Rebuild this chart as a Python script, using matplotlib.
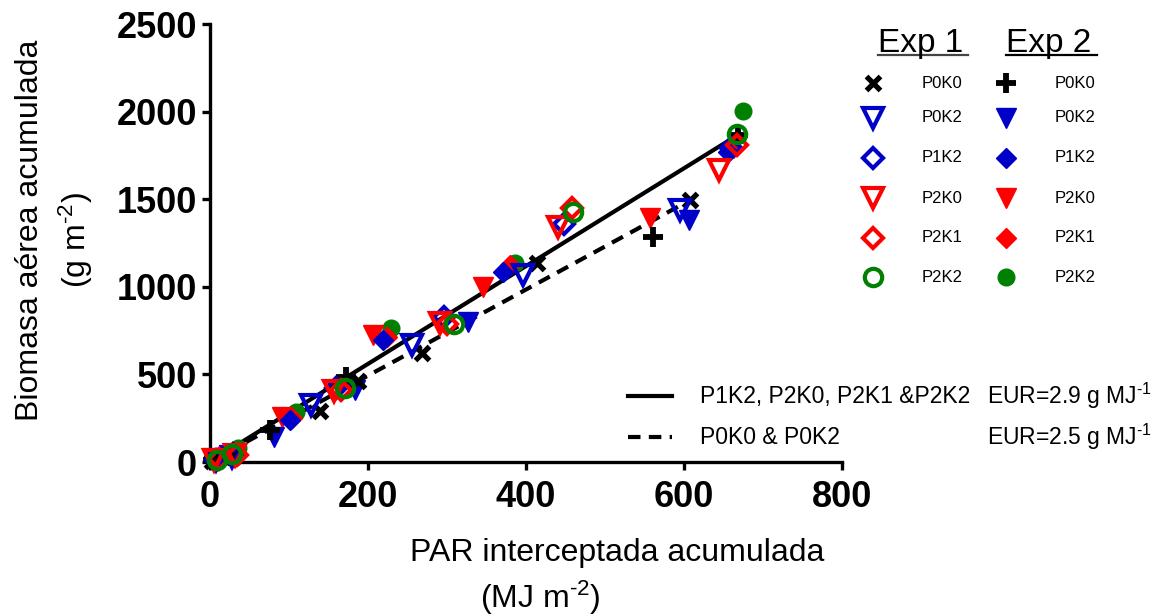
import matplotlib
matplotlib.use('Agg')
import matplotlib.pyplot as plt
from matplotlib.lines import Line2D

plt.rcParams['font.family'] = ['Liberation Sans', 'DejaVu Sans']
plt.rcParams['mathtext.default'] = 'regular'

# ---------------- data (PAR MJ m-2, biomass g m-2) ----------------
treatments = ['P0K0', 'P0K2', 'P1K2', 'P2K0', 'P2K1', 'P2K2']

e1_p0k0_x = [3, 30, 140, 188, 269, 414, 608]
e1_p0k0_y = [5, 30, 290, 460, 620, 1134, 1495]
e1_p0k2_x = [8, 28, 129, 256, 397, 595]
e1_p0k2_y = [10, 30, 325, 668, 1067, 1438]
e1_p1k2_x = [8, 30, 160, 297, 448, 660]
e1_p1k2_y = [12, 45, 425, 829, 1360, 1795]
e1_p2k0_x = [6, 32, 158, 291, 441, 644]
e1_p2k0_y = [10, 40, 405, 792, 1343, 1667]
e1_p2k1_x = [12, 35, 166, 300, 458, 667]
e1_p2k1_y = [15, 40, 410, 785, 1450, 1809]
e1_p2k2_x = [10, 28, 171, 309, 460, 667]
e1_p2k2_y = [12, 46, 420, 786, 1429, 1872]

e2_p0k0_x = [5, 76, 173, 561, 669]
e2_p0k0_y = [10, 183, 487, 1286, 1866]
e2_p0k2_x = [8, 81, 184, 327, 606]
e2_p0k2_y = [5, 140, 411, 800, 1381]
e2_p1k2_x = [10, 30, 102, 220, 371, 656]
e2_p1k2_y = [15, 40, 240, 696, 1086, 1771]
e2_p2k0_x = [8, 30, 92, 207, 346, 557]
e2_p2k0_y = [10, 35, 258, 725, 1001, 1391]
e2_p2k1_x = [12, 32, 104, 224, 380, 662]
e2_p2k1_y = [20, 45, 250, 712, 1124, 1790]
e2_p2k2_x = [10, 36, 110, 230, 386, 675]
e2_p2k2_y = [15, 80, 285, 763, 1134, 2005]

fit_high_x = [0, 668]
fit_high_y = [0, 1866]
fit_low_x = [0, 608]
fit_low_y = [0, 1495]

fit_high_label = 'P1K2, P2K0, P2K1 &P2K2'
fit_low_label = 'P0K0 & P0K2'
eur_high = '2.9'
eur_low = '2.5'

xticks = [0, 200, 400, 600, 800]
yticks = [0, 500, 1000, 1500, 2000, 2500]

# ---------------- styles ----------------
BLUE = '#0000C8'
RED = '#FF0000'
GREEN = '#008000'
BLACK = '#000000'
HY = '\u2010'  # hyphen for superscripts

# (marker, color, filled, ms, mew)
style_e1 = [('x', BLACK, True, 10, 3.8),
            ('v', BLUE, False, 15, 3.0),
            ('D', BLUE, False, 10.5, 3.0),
            ('v', RED, False, 15, 3.0),
            ('D', RED, False, 10.5, 3.0),
            ('o', GREEN, False, 12.5, 3.0)]
style_e2 = [('+', BLACK, True, 14, 4.2),
            ('v', BLUE, True, 14, 1.0),
            ('D', BLUE, True, 10.5, 1.0),
            ('v', RED, True, 14, 1.0),
            ('D', RED, True, 10.5, 1.0),
            ('o', GREEN, True, 12, 1.0)]

e1_data = [(e1_p0k0_x, e1_p0k0_y), (e1_p0k2_x, e1_p0k2_y), (e1_p1k2_x, e1_p1k2_y),
           (e1_p2k0_x, e1_p2k0_y), (e1_p2k1_x, e1_p2k1_y), (e1_p2k2_x, e1_p2k2_y)]
e2_data = [(e2_p0k0_x, e2_p0k0_y), (e2_p0k2_x, e2_p0k2_y), (e2_p1k2_x, e2_p1k2_y),
           (e2_p2k0_x, e2_p2k0_y), (e2_p2k1_x, e2_p2k1_y), (e2_p2k2_x, e2_p2k2_y)]


def mk_kwargs(st):
    m, c, filled, ms, mew = st
    kw = dict(marker=m, ms=ms, mew=mew, mec=c, linestyle='none')
    if m in ('x', '+'):
        kw['color'] = c
    else:
        kw['mfc'] = c if filled else 'none'
    return kw


fig = plt.figure(figsize=(11.65, 6.15), dpi=100)
W, H = 1165.0, 615.0
ax = fig.add_axes([209.5 / W, (H - 462) / H, (842 - 209.5) / W, (462 - 24) / H])

# regression lines
ax.plot(fit_high_x, fit_high_y, color=BLACK, lw=3, solid_capstyle='butt', zorder=2)
ax.plot(fit_low_x, fit_low_y, color=BLACK, lw=3, dashes=(3, 2), zorder=2)

# markers: exp2 (reversed order), then exp1
for (xs, ys), st in reversed(list(zip(e2_data, style_e2))):
    ax.plot(xs, ys, zorder=3, clip_on=False, **mk_kwargs(st))
for (xs, ys), st in zip(e1_data, style_e1):
    ax.plot(xs, ys, zorder=4, clip_on=False, **mk_kwargs(st))

ax.set_xlim(0, 800)
ax.set_ylim(0, 2500)
ax.set_xticks(xticks)
ax.set_yticks(yticks)
for sp in ('top', 'right'):
    ax.spines[sp].set_visible(False)
for sp in ('left', 'bottom'):
    ax.spines[sp].set_linewidth(2.4)
ax.tick_params(direction='out', length=6, width=2.4, pad=3)
ax.tick_params(axis='x', pad=7)
for lab in ax.get_xticklabels() + ax.get_yticklabels():
    lab.set_fontsize(26)
    lab.set_fontweight('bold')

# axis labels
fig.text(617 / W, 1 - 553 / H, 'PAR interceptada acumulada', fontsize=23,
         ha='center', va='center')
fig.text(540 / W, 1 - 598 / H, '(MJ m$^{' + HY + '2}$)', fontsize=23, ha='center',
         va='center')
fig.text(30 / W, 1 - 230 / H, 'Biomasa aérea acumulada', fontsize=23, rotation=90,
         ha='center', va='center')
fig.text(76 / W, 1 - 240 / H, '(g m$^{' + HY + '2}$)', fontsize=23, rotation=90,
         ha='center', va='center')

# top-right legend
fig.text(878 / W, 1 - 52 / H, 'Exp 1', fontsize=24, ha='left', va='baseline')
fig.text(1006 / W, 1 - 52 / H, 'Exp 2', fontsize=24, ha='left', va='baseline')
fig.add_artist(Line2D([878 / W, 968 / W], [1 - 55 / H, 1 - 55 / H], color='#444444', lw=1.6,
                      transform=fig.transFigure))
fig.add_artist(Line2D([1006 / W, 1097 / W], [1 - 55 / H, 1 - 55 / H], color=BLACK, lw=1.6,
                      transform=fig.transFigure))
rows_y = [83, 118, 158, 198, 238, 277]
for i, name in enumerate(treatments):
    yy = 1 - rows_y[i] / H
    for xm, xt, st in ((873, 922, style_e1[i]), (1006, 1055, style_e2[i])):
        fig.add_artist(Line2D([xm / W], [yy], transform=fig.transFigure, **mk_kwargs(st)))
        fig.text(xt / W, yy, name, fontsize=12, ha='left', va='center')

# bottom legend (fits)
for yp, lab, eur, dash in ((396, fit_high_label, eur_high, None),
                           (437, fit_low_label, eur_low, (3, 2))):
    yy = 1 - yp / H
    kw = dict(color=BLACK, lw=3, transform=fig.transFigure)
    if dash:
        kw['dashes'] = dash
    fig.add_artist(Line2D([628 / W, 672 / W], [yy, yy], **kw))
    fig.text(700 / W, yy, lab, fontsize=16.5, ha='left', va='center')
    fig.text(1152 / W, yy, 'EUR=' + eur + ' g MJ$^{' + HY + '1}$', fontsize=16.5,
             ha='right', va='center')

fig.savefig('out.png', dpi=100)
